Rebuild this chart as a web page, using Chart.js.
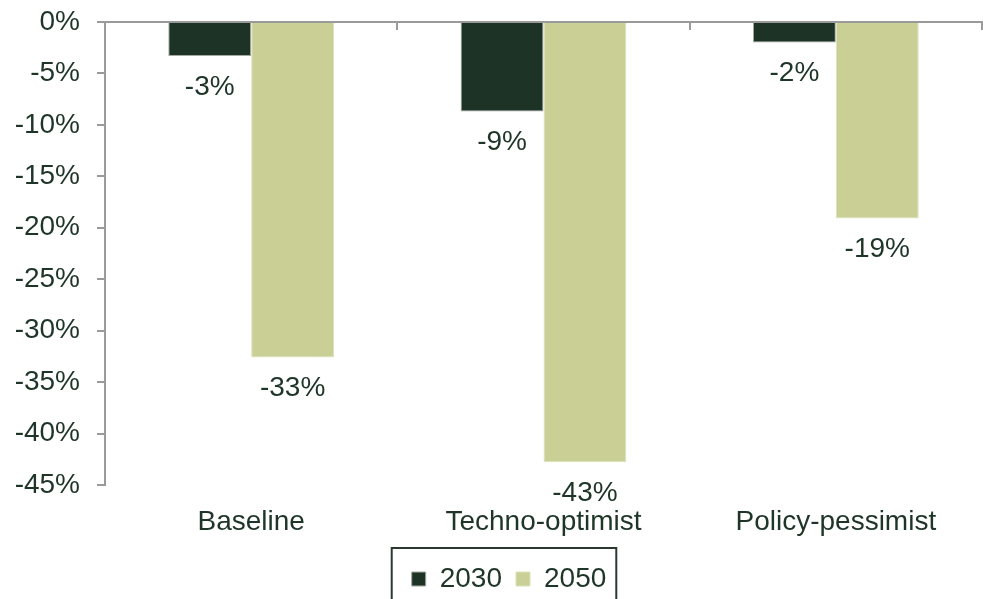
<!DOCTYPE html>
<html>
<head>
<meta charset="utf-8">
<script src="https://cdn.jsdelivr.net/npm/chart.js@4/dist/chart.umd.min.js"></script>
<style>
  html, body { margin: 0; padding: 0; background: #ffffff; }
  #wrap { position: relative; width: 983px; height: 599px; }
</style>
</head>
<body>
<div id="wrap"><canvas id="c" width="983" height="599"></canvas></div>
<script>
const categories = ['Baseline', 'Techno-optimist', 'Policy-pessimist'];
const seriesNames = ['2030', '2050'];
const values2030 = [-3.3, -8.7, -2.0];
const values2050 = [-32.6, -42.8, -19.1];
const yTicks = [0, -5, -10, -15, -20, -25, -30, -35, -40, -45];

const TEXT = '#1e3528';
const AXIS = '#9a9a9a';
const FONT = '"Liberation Sans", Arial, sans-serif';
const FS = 28;

const valueLabels = {
  id: 'valueLabels',
  afterDatasetsDraw(chart) {
    const ctx = chart.ctx;
    ctx.save();
    ctx.font = FS + 'px ' + FONT;
    ctx.fillStyle = TEXT;
    ctx.textAlign = 'center';
    ctx.textBaseline = 'middle';
    chart.data.datasets.forEach((ds, i) => {
      chart.getDatasetMeta(i).data.forEach((bar, j) => {
        ctx.fillText(Math.round(ds.data[j]) + '%', bar.x, bar.y + 31);
      });
    });
    ctx.restore();
  }
};

const legendShift = {
  id: 'legendShift',
  afterLayout(chart) {
    const lg = chart.legend;
    if (!lg) return;
    lg.left += 18;
    lg.right += 18;
  }
};

const legendBox = {
  id: 'legendBox',
  afterDraw(chart) {
    const lg = chart.legend;
    if (!lg || !lg.legendHitBoxes || !lg.legendHitBoxes.length) return;
    let minX = Infinity, maxX = -Infinity, minY = Infinity;
    lg.legendHitBoxes.forEach(h => {
      minX = Math.min(minX, h.left);
      maxX = Math.max(maxX, h.left + h.width);
      minY = Math.min(minY, h.top);
    });
    const ctx = chart.ctx;
    ctx.save();
    ctx.strokeStyle = '#2a3a30';
    ctx.lineWidth = 2;
    ctx.strokeRect(minX - 20, minY - 17, (maxX - minX) + 30, 80);
    ctx.restore();
  }
};

new Chart(document.getElementById('c'), {
  type: 'bar',
  data: {
    labels: categories,
    datasets: [
      { label: seriesNames[0], data: values2030, backgroundColor: '#1c3326', borderColor: '#a4a8a0', borderWidth: 1 },
      { label: seriesNames[1], data: values2050, backgroundColor: '#c9cf95', borderColor: '#dde1bd', borderWidth: 1 }
    ]
  },
  options: {
    responsive: false,
    animation: false,
    devicePixelRatio: 1,
    categoryPercentage: 0.567,
    barPercentage: 1.0,
    layout: { padding: { top: 22, right: 1, left: 0, bottom: -4 } },
    plugins: {
      legend: {
        position: 'bottom',
        labels: {
          font: { family: FONT, size: FS },
          color: TEXT,
          boxWidth: 14,
          boxHeight: 14,
          padding: 14
        }
      },
      tooltip: { enabled: false }
    },
    scales: {
      x: {
        position: 'bottom',
        grid: { display: false },
        border: { display: false },
        ticks: { font: { family: FONT, size: FS }, color: TEXT, padding: 12 },
        afterFit(scale) { scale.height = 66; }
      },
      x2: {
        type: 'category',
        axis: 'x',
        position: { y: 0 },
        offset: true,
        grid: { display: true, offset: true, drawOnChartArea: false, drawTicks: true, tickLength: 7, color: AXIS, lineWidth: 2 },
        border: { display: true, color: AXIS, width: 2 },
        ticks: { display: false },
        afterFit(scale) { scale.paddingTop = 0; scale.paddingBottom = 0; }
      },
      y: {
        min: -45,
        max: 0,
        afterBuildTicks(scale) { scale.ticks = yTicks.map(v => ({ value: v })); },
        afterFit(scale) { scale.width = 105; scale.paddingTop = 0; scale.paddingBottom = 0; },
        grid: { drawOnChartArea: false, drawTicks: true, tickLength: 8, color: AXIS, lineWidth: 2 },
        border: { display: true, color: AXIS, width: 2 },
        ticks: {
          font: { family: FONT, size: FS },
          color: TEXT,
          padding: 17,
          callback: v => v + '%'
        }
      }
    }
  },
  plugins: [legendShift, valueLabels, legendBox]
});
</script>
</body>
</html>
